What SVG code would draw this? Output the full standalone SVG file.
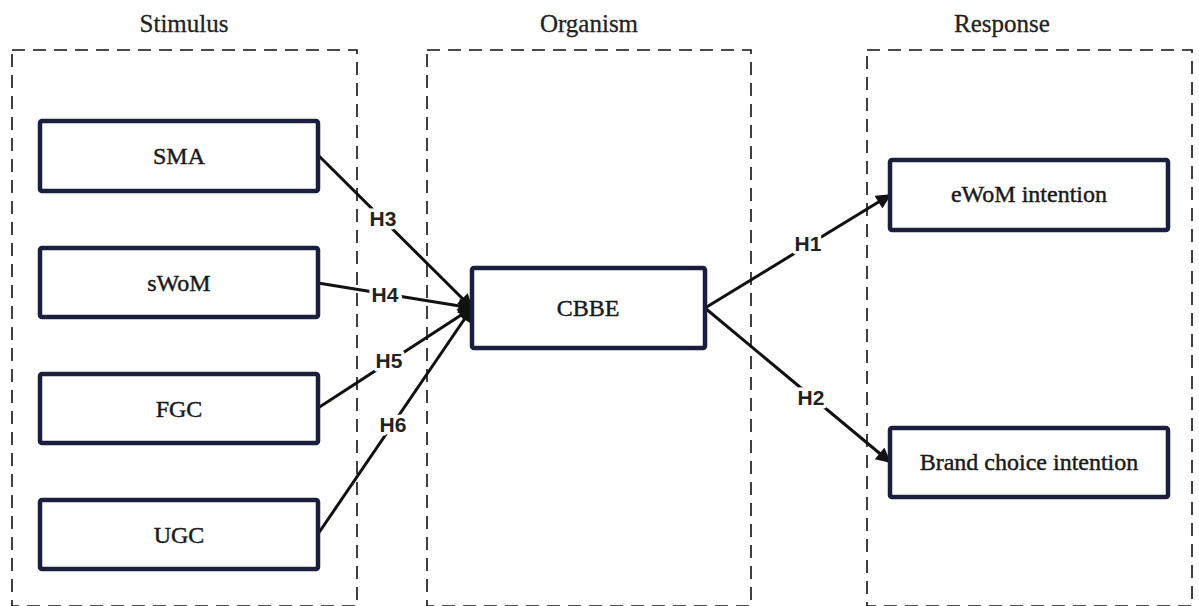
<svg xmlns="http://www.w3.org/2000/svg" width="1199" height="606" viewBox="0 0 1199 606">
  <style>
    .stage { fill: none; stroke: #111; stroke-width: 1.6; stroke-dasharray: 13 8; }
    .title { font-family: "Liberation Serif", "DejaVu Serif", serif; font-size: 25px; fill: #222; stroke: #222; stroke-width: 0.3; text-anchor: middle; }
    .box { fill: #fff; stroke: #1a1f3d; stroke-width: 4.5; }
    .label { font-family: "Liberation Serif", "DejaVu Serif", serif; font-size: 24px; fill: #1a1a1a; stroke: #1a1a1a; stroke-width: 0.45; text-anchor: middle; dominant-baseline: central; }
    .edge { stroke: #111; stroke-width: 3; fill: none; }
    .hyp { font-family: "Liberation Sans", Arial, sans-serif; font-size: 21px; font-weight: bold; fill: #222; text-anchor: middle; dominant-baseline: central; stroke: #fff; stroke-width: 7; paint-order: stroke; stroke-linejoin: round; }
  </style>
  <defs>
    <marker id="arrow" viewBox="0 0 10 10" refX="9" refY="5" markerWidth="5.5" markerHeight="5" orient="auto" markerUnits="strokeWidth">
      <path d="M0,0 L10,5 L0,10 z" fill="#111"/>
    </marker>
  </defs>
  <rect width="1199" height="606" fill="#fff"/>

  <!-- S-O-R stage frames -->
  <g id="stages">
    <rect class="stage" x="12" y="50" width="345" height="556"/>
    <rect class="stage" x="427" y="50" width="324" height="556"/>
    <rect class="stage" x="867" y="50" width="325" height="556"/>
    <text class="title" x="184" y="32">Stimulus</text>
    <text class="title" x="589" y="32">Organism</text>
    <text class="title" x="1002" y="32">Response</text>
  </g>

  <!-- connectors -->
  <g id="connectors">
    <line class="edge" x1="318" y1="155" x2="472" y2="308" marker-end="url(#arrow)"/>
    <line class="edge" x1="318" y1="283" x2="472" y2="308" marker-end="url(#arrow)"/>
    <line class="edge" x1="318" y1="408" x2="472" y2="308" marker-end="url(#arrow)"/>
    <line class="edge" x1="318" y1="534" x2="472" y2="308" marker-end="url(#arrow)"/>
    <line class="edge" x1="705" y1="308" x2="890" y2="195" marker-end="url(#arrow)"/>
    <line class="edge" x1="705" y1="308" x2="890" y2="462" marker-end="url(#arrow)"/>
    <text class="hyp" x="383" y="218">H3</text>
    <text class="hyp" x="385" y="294">H4</text>
    <text class="hyp" x="389" y="360">H5</text>
    <text class="hyp" x="393" y="424">H6</text>
    <text class="hyp" x="808" y="243">H1</text>
    <text class="hyp" x="811" y="397">H2</text>
  </g>

  <g id="node-sma">
    <rect class="box" x="40" y="121" width="278" height="70" rx="2"/>
    <text class="label" x="179" y="156">SMA</text>
  </g>
  <g id="node-swom">
    <rect class="box" x="40" y="248" width="278" height="69" rx="2"/>
    <text class="label" x="179" y="283">sWoM</text>
  </g>
  <g id="node-fgc">
    <rect class="box" x="40" y="374" width="278" height="69" rx="2"/>
    <text class="label" x="179" y="409">FGC</text>
  </g>
  <g id="node-ugc">
    <rect class="box" x="40" y="500" width="278" height="69" rx="2"/>
    <text class="label" x="179" y="535">UGC</text>
  </g>
  <g id="node-cbbe">
    <rect class="box" x="472" y="268" width="233" height="80" rx="2"/>
    <text class="label" x="588" y="308">CBBE</text>
  </g>
  <g id="node-ewom">
    <rect class="box" x="890" y="160" width="278" height="70" rx="2"/>
    <text class="label" x="1029" y="194">eWoM intention</text>
  </g>
  <g id="node-brand">
    <rect class="box" x="890" y="428" width="278" height="69" rx="2"/>
    <text class="label" x="1029" y="462">Brand choice intention</text>
  </g>
</svg>
